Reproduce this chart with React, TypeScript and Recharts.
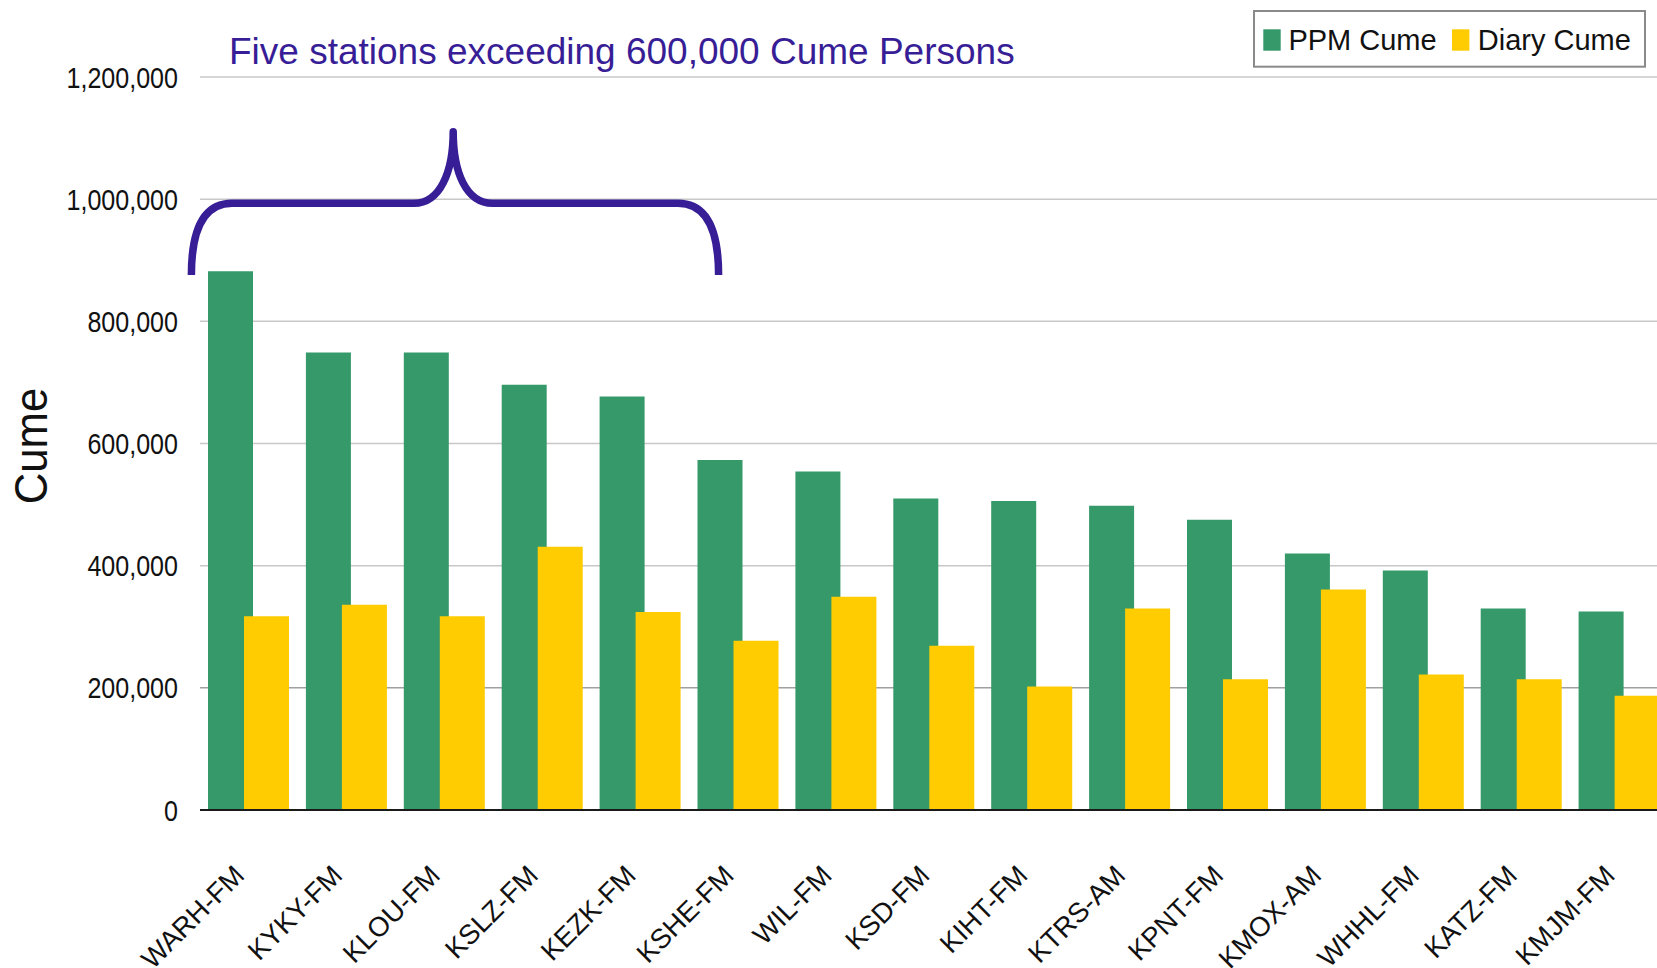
import { BarChart, Bar, XAxis, YAxis, CartesianGrid, Legend } from "recharts";

const stations = [
  "WARH-FM",
  "KYKY-FM",
  "KLOU-FM",
  "KSLZ-FM",
  "KEZK-FM",
  "KSHE-FM",
  "WIL-FM",
  "KSD-FM",
  "KIHT-FM",
  "KTRS-AM",
  "KPNT-FM",
  "KMOX-AM",
  "WHHL-FM",
  "KATZ-FM",
  "KMJM-FM",
];
const ppmCume = [882000, 749000, 749000, 696000, 677000, 573000, 554000, 510000, 506000, 498000, 475000, 420000, 392000, 330000, 325000];
const diaryCume = [317000, 336000, 317000, 431000, 324000, 277000, 349000, 269000, 202000, 330000, 214000, 361000, 222000, 214000, 187000];
const yTicks = [0, 200000, 400000, 600000, 800000, 1000000, 1200000];
const seriesOrder = ["ppm", "diary"];

const GREEN = "#35996a";
const YELLOW = "#fecc00";
const INDIGO = "#381e96";
const FONT = "'Liberation Sans', Arial, sans-serif";

const rows = stations.map((name, i) => ({ name, ppm: ppmCume[i], diary: diaryCume[i] }));

const fmt = (v: number) => v.toLocaleString("en-US");

function YTick({ x, y, payload }: any) {
  return (
    <text
      transform={`translate(${x},${y}) scale(0.85,1)`}
      textAnchor="end"
      dy="0.36em"
      fontSize={29.5}
      fontFamily={FONT}
      fill="#111"
    >
      {fmt(payload.value)}
    </text>
  );
}

function XTick({ x, y, payload }: any) {
  return (
    <text
      transform={`translate(${x - 3},${y + 67}) rotate(-45)`}
      textAnchor="end"
      fontSize={27.5}
      fontFamily={FONT}
      fill="#111"
    >
      {payload.value}
    </text>
  );
}

function LegendBox({ payload }: any) {
  // keep PPM first like the original, whatever order recharts hands us
  const items = [...(payload ?? [])].sort(
    (a: any, b: any) => seriesOrder.indexOf(a.dataKey) - seriesOrder.indexOf(b.dataKey)
  );
  const slots = [
    { sq: 10.3, tx: 35.4 },
    { sq: 199, tx: 224.8 },
  ];
  return (
    <svg width={393} height={58}>
      <rect x={1} y={1} width={391} height={55.7} fill="#fff" stroke="#8a8a8a" strokeWidth={2} />
      {items.map((it: any, i: number) => (
        <g key={it.value}>
          <rect x={slots[i].sq} y={19.3} width={17.4} height={21.4} fill={it.color} />
          <text x={slots[i].tx} y={40} fontSize={29} fontFamily={FONT} fill="#111">
            {it.value}
          </text>
        </g>
      ))}
    </svg>
  );
}

export default function App() {
  return (
    <div
      style={{
        position: "fixed",
        left: 0,
        top: 0,
        width: 1657,
        height: 968,
        overflow: "hidden",
        background: "#fff",
      }}
    >
      <BarChart
        width={1680}
        height={968}
        data={rows}
        margin={{ top: 77, right: 11.5, bottom: 8, left: 0 }}
        barSize={45}
        barGap={-9}
      >
        <CartesianGrid
          vertical={false}
          stroke="#c8c8c8"
          strokeWidth={1.5}
          horizontalValues={[400000, 600000, 800000, 1000000, 1200000]}
        />
        <CartesianGrid vertical={false} stroke="#a0a0a0" strokeWidth={1.5} horizontalValues={[200000]} />
        <XAxis
          dataKey="name"
          height={150}
          interval={0}
          tickLine={false}
          tickSize={0}
          tickMargin={0}
          axisLine={{ stroke: "#1a1a1a", strokeWidth: 2 }}
          tick={<XTick />}
        />
        <YAxis
          width={200}
          domain={[0, 1200000]}
          ticks={yTicks}
          interval={0}
          axisLine={false}
          tickLine={false}
          tickSize={0}
          tickMargin={22}
          tick={<YTick />}
        />
        <Legend
          layout="vertical"
          verticalAlign="middle"
          align="center"
          wrapperStyle={{ left: 1253, top: 10, width: 393, height: 58 }}
          content={<LegendBox />}
        />
        <Bar dataKey="ppm" name="PPM Cume" fill={GREEN} isAnimationActive={false} />
        <Bar dataKey="diary" name="Diary Cume" fill={YELLOW} isAnimationActive={false} />
      </BarChart>
      <svg
        width={1657}
        height={968}
        style={{ position: "absolute", left: 0, top: 0, pointerEvents: "none" }}
      >
        <text x={229} y={64.3} fontSize={37} fontFamily={FONT} fill={INDIGO}>
          Five stations exceeding 600,000 Cume Persons
        </text>
        <path
          d="M191.4,275 C191.4,235 201,203.3 232,203.3 L414,203.3 C440,203.3 453.2,172 453.2,131.7 C453.2,172 466,203.3 492.5,203.3 L678,203.3 C709,203.3 718.6,235 718.6,275"
          fill="none"
          stroke={INDIGO}
          strokeWidth={7.5}
          strokeLinejoin="round"
        />
        <text
          transform="translate(30,446) rotate(-90) scale(0.93,1)"
          textAnchor="middle"
          dy="0.36em"
          fontSize={47}
          fontFamily={FONT}
          fill="#111"
        >
          Cume
        </text>
      </svg>
    </div>
  );
}
